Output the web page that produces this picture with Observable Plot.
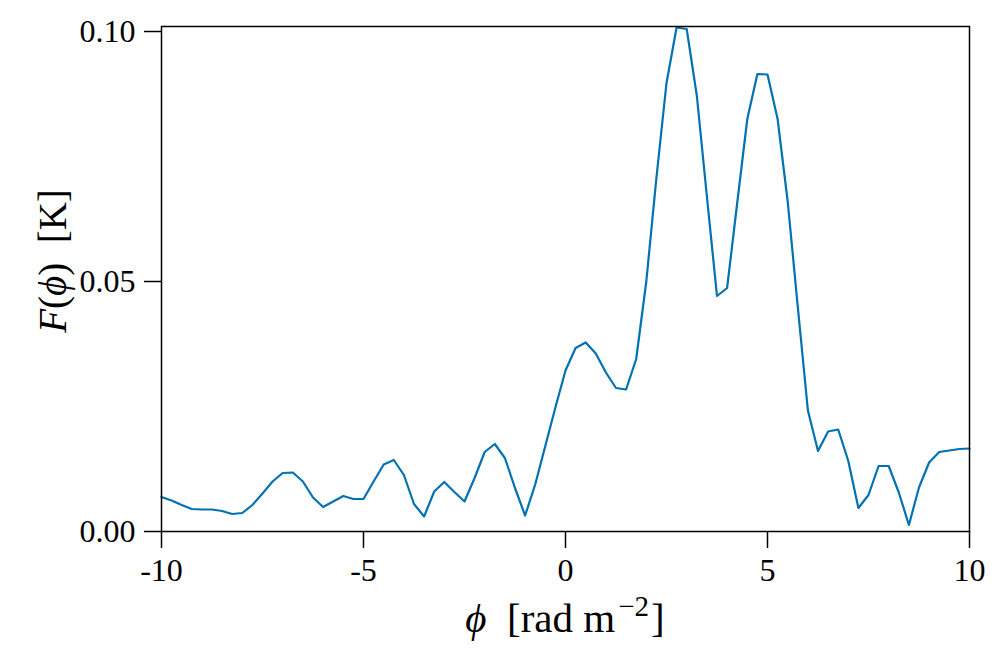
<!DOCTYPE html>
<html>
<head>
<meta charset="utf-8">
<script src="https://cdn.jsdelivr.net/npm/d3@7"></script>
<script src="https://cdn.jsdelivr.net/npm/@observablehq/plot@0.6"></script>
<style>
  html, body { margin: 0; padding: 0; background: #fff; }
</style>
</head>
<body>
<div id="chart"></div>
<script>
const phi = [
  -10.00, -9.75, -9.50, -9.25, -9.00, -8.75, -8.50, -8.25, -8.00, -7.75,
  -7.50, -7.25, -7.00, -6.75, -6.50, -6.25, -6.00, -5.75, -5.50, -5.25,
  -5.00, -4.75, -4.50, -4.25, -4.00, -3.75, -3.50, -3.25, -3.00, -2.75,
  -2.50, -2.25, -2.00, -1.75, -1.50, -1.25, -1.00, -0.75, -0.50, -0.25,
  0.00, 0.25, 0.50, 0.75, 1.00, 1.25, 1.50, 1.75, 2.00, 2.25,
  2.50, 2.75, 3.00, 3.25, 3.50, 3.75, 4.00, 4.25, 4.50, 4.75,
  5.00, 5.25, 5.50, 5.75, 6.00, 6.25, 6.50, 6.75, 7.00, 7.25,
  7.50, 7.75, 8.00, 8.25, 8.50, 8.75, 9.00, 9.25, 9.50, 9.75,
  10.00
];
const F = [
  0.0069, 0.0062, 0.0053, 0.0045, 0.0044, 0.0044, 0.0041, 0.0035, 0.0037, 0.0053,
  0.0076, 0.0100, 0.0117, 0.0118, 0.0100, 0.0068, 0.0049, 0.0060, 0.0071, 0.0065,
  0.0065, 0.0100, 0.0134, 0.0143, 0.0113, 0.0055, 0.0030, 0.0080, 0.0099, 0.0079,
  0.0060, 0.0107, 0.0159, 0.0175, 0.0147, 0.0087, 0.0032, 0.0094, 0.0171, 0.0248,
  0.0322, 0.0367, 0.0378, 0.0356, 0.0318, 0.0287, 0.0284, 0.0345, 0.0500, 0.0707,
  0.0897, 0.1008, 0.1005, 0.0872, 0.0670, 0.0471, 0.0487, 0.0657, 0.0825, 0.0915,
  0.0914, 0.0825, 0.0660, 0.0449, 0.0242, 0.0161, 0.0200, 0.0204, 0.0141, 0.0047,
  0.0073, 0.0131, 0.0131, 0.0078, 0.0013, 0.0088, 0.0138, 0.0159, 0.0162, 0.0165,
  0.0166
];
const xTicks = [-10, -5, 0, 5, 10];
const xTickLabels = ["-10", "-5", "0", "5", "10"];
const yTicks = [0, 0.05, 0.10];
const yTickLabels = ["0.00", "0.05", "0.10"];

const data = phi.map((p, i) => ({phi: p, F: F[i]}));

const W = 996, H = 664;
const mL = 161, mR = 27, mT = 26, mB = 133;

const svg = Plot.plot({
  width: W,
  height: H,
  marginLeft: mL,
  marginRight: mR,
  marginTop: mT,
  marginBottom: mB,
  style: {fontFamily: "'Liberation Serif', serif", fontSize: "32px", color: "#000", background: "#fff"},
  x: {domain: [-10, 10], label: null},
  y: {domain: [0, 0.101], label: null},
  marks: [
    Plot.line(data, {x: "phi", y: "F", stroke: "#0072B2", strokeWidth: 2.2, curve: "linear"}),
    Plot.frame({stroke: "#000", strokeWidth: 1.5}),
    Plot.axisX({ticks: xTicks, tickSize: 17, tickPadding: 10, strokeWidth: 1.5,
      tickFormat: (d) => xTickLabels[xTicks.indexOf(d)], fontSize: 32, label: null}),
    Plot.axisY({ticks: yTicks, tickSize: 17, tickPadding: 9, strokeWidth: 1.5,
      tickFormat: (d) => yTickLabels[yTicks.indexOf(d)], fontSize: 32, label: null})
  ]
});

const s = d3.select(svg);
// x-axis label: ϕ [rad m⁻²]
const xl = s.append("text")
  .attr("x", (mL + (W - mR)) / 2)
  .attr("y", 632)
  .attr("text-anchor", "middle")
  .attr("font-family", "'Liberation Serif', serif")
  .attr("font-size", 41)
  .attr("fill", "#000");
xl.append("tspan").attr("font-style", "italic").text("ϕ");
xl.append("tspan").text("  [rad m");
xl.append("tspan").attr("dx", 3).attr("dy", -16).attr("font-size", 29).text("−2");
xl.append("tspan").attr("dx", 2).attr("dy", 16).text("]");

// y-axis label: F(ϕ) [K]
const yl = s.append("text")
  .attr("transform", "translate(66,261) rotate(-90)")
  .attr("text-anchor", "middle")
  .attr("font-family", "'Liberation Serif', serif")
  .attr("font-size", 39)
  .attr("fill", "#000");
yl.append("tspan").attr("font-style", "italic").text("F");
yl.append("tspan").text("(");
yl.append("tspan").attr("font-style", "italic").text("ϕ");
yl.append("tspan").text(")  [K]");

document.getElementById("chart").appendChild(svg);
</script>
</body>
</html>
